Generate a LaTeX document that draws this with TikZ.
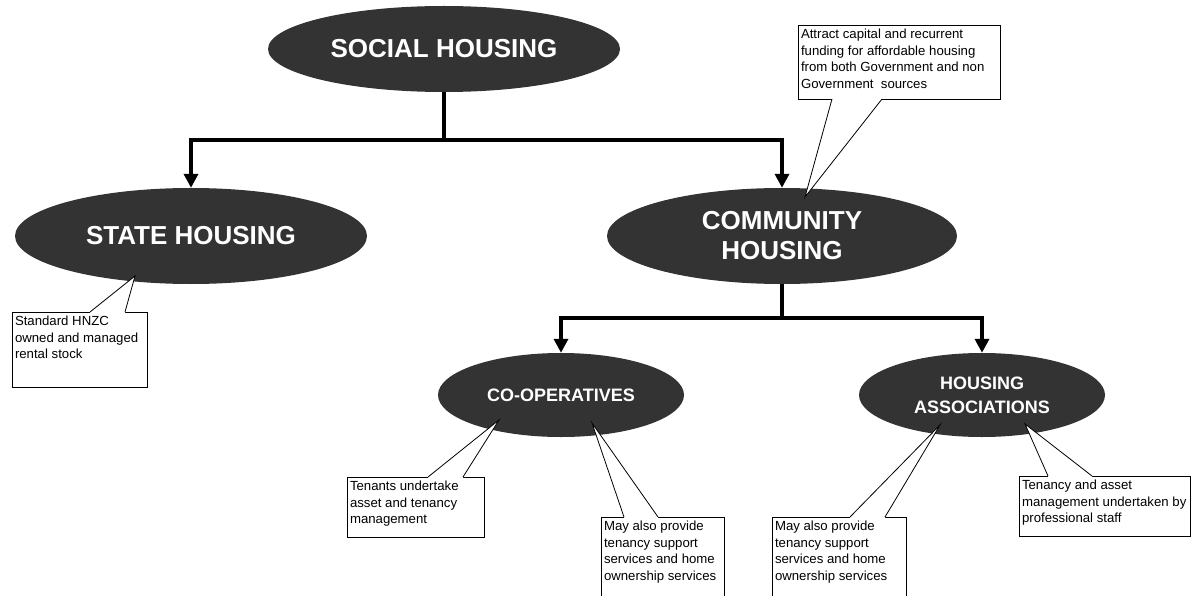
\documentclass[tikz,border=0pt]{standalone}
\usepackage{fontspec}
\setmainfont{Liberation Sans}
\usetikzlibrary{arrows.meta,shapes.geometric}
\definecolor{bubblefill}{HTML}{333333}
\newcommand{\calloutfont}{\fontsize{13.2}{16.8}\selectfont}
% body of a callout box: width, height, text (top aligned)
\newcommand{\calloutbody}[3]{\parbox[t][#2][t]{#1}{\raggedright\strut #3}}
% tail of a callout: box name, corner anchor of the edge it leaves from,
% left and right offsets along that edge, tip, shift into the box
\newcommand{\calltail}[6]{%
  \fill[white] ([xshift=#3pt]#1.#2) -- (#5) -- ([xshift=#4pt]#1.#2)
    -- ([xshift=#4pt,yshift=#6pt]#1.#2) -- ([xshift=#3pt,yshift=#6pt]#1.#2) -- cycle;
  \draw[tail] ([xshift=#3pt]#1.#2) -- (#5) -- ([xshift=#4pt]#1.#2);}

\begin{document}
\begin{tikzpicture}[x=1pt,y=-1pt,
  bubble/.style={ellipse, fill=bubblefill, text=white, inner sep=0pt, align=center},
  bigbubble/.style={bubble, font={\fontsize{26}{30}\selectfont\bfseries}},
  smallbubble/.style={bubble, font={\fontsize{18}{24}\selectfont\bfseries}},
  trunk/.style={line width=4pt},
  branch/.style={line width=4pt, line join=miter, -{Triangle[width=14pt,length=14pt]}},
  note/.style={draw=black, line width=0.8pt, fill=white, anchor=north west,
    inner xsep=3pt, inner ysep=1.5pt, outer sep=0pt, font=\calloutfont},
  tail/.style={draw=black, line width=0.8pt, line join=miter},
]
\useasboundingbox (0,0) rectangle (1193,596);
\fill[white] (0,0) rectangle (1193,596);
\clip (0,0) rectangle (1193,596);

% hierarchy
\node[bigbubble, minimum width=352pt, minimum height=86pt] (social) at (444,49) {SOCIAL HOUSING};
\node[bigbubble, minimum width=352pt, minimum height=96pt] (state) at (191,236) {STATE HOUSING};
\node[bigbubble, minimum width=350pt, minimum height=96pt] (community) at (782,236) {COMMUNITY\\HOUSING};
\node[smallbubble, minimum width=246pt, minimum height=84pt] (coop) at (561,395) {CO-OPERATIVES};
\node[smallbubble, minimum width=246pt, minimum height=84pt] (assoc) at (982,395) {HOUSING\\ASSOCIATIONS};

% connectors
\coordinate (split1) at (444,140);
\coordinate (split2) at (782,318);
\draw[trunk] (social.south) -- (split1);
\draw[branch] (split1) -| (state.north);
\draw[branch] (split1) -| (community.north);
\draw[trunk] (community.south) -- (split2);
\draw[branch] (split2) -| (coop.north);
\draw[branch] (split2) -| (assoc.north);

% callouts
\node[note] (stdnote) at (12,312)
  {\calloutbody{129pt}{72pt}{Standard HNZC\\owned and managed\\rental stock}};
\coordinate (stdtip) at (135,276);
\calltail{stdnote}{north west}{78}{113}{stdtip}{-1.2}

\node[note] (fundnote) at (798,25)
  {\calloutbody{196pt}{71pt}{Attract capital and recurrent\\funding for affordable housing\\from both Government and non\\Government\ \ sources}};
\coordinate (fundtip) at (805,197);
\calltail{fundnote}{south west}{34}{84}{fundtip}{1.2}

\node[note] (tenantnote) at (347,477)
  {\calloutbody{131pt}{57pt}{Tenants undertake\\asset and tenancy\\management}};
\coordinate (tenanttip) at (499,420);
\calltail{tenantnote}{north west}{81}{116}{tenanttip}{-1.2}

\node[note] (coopnote) at (601,517)
  {\calloutbody{117pt}{92pt}{May also provide\\tenancy support\\services and home\\ownership~services}};
\coordinate (cooptip) at (592,423);
\calltail{coopnote}{north west}{23}{57}{cooptip}{-1.2}

\node[note] (assocnote) at (772,517)
  {\calloutbody{128pt}{92pt}{May also provide\\tenancy support\\services and home\\ownership~services}};
\coordinate (assoctip) at (940,425);
\calltail{assocnote}{north west}{78}{113}{assoctip}{-1.2}

\node[note] (profnote) at (1019,476)
  {\calloutbody{165pt}{57pt}{Tenancy and asset\\management~undertaken~by\\professional staff}};
\coordinate (proftip) at (1025,424);
\calltail{profnote}{north west}{29}{73}{proftip}{-1.2}
\end{tikzpicture}
\end{document}
